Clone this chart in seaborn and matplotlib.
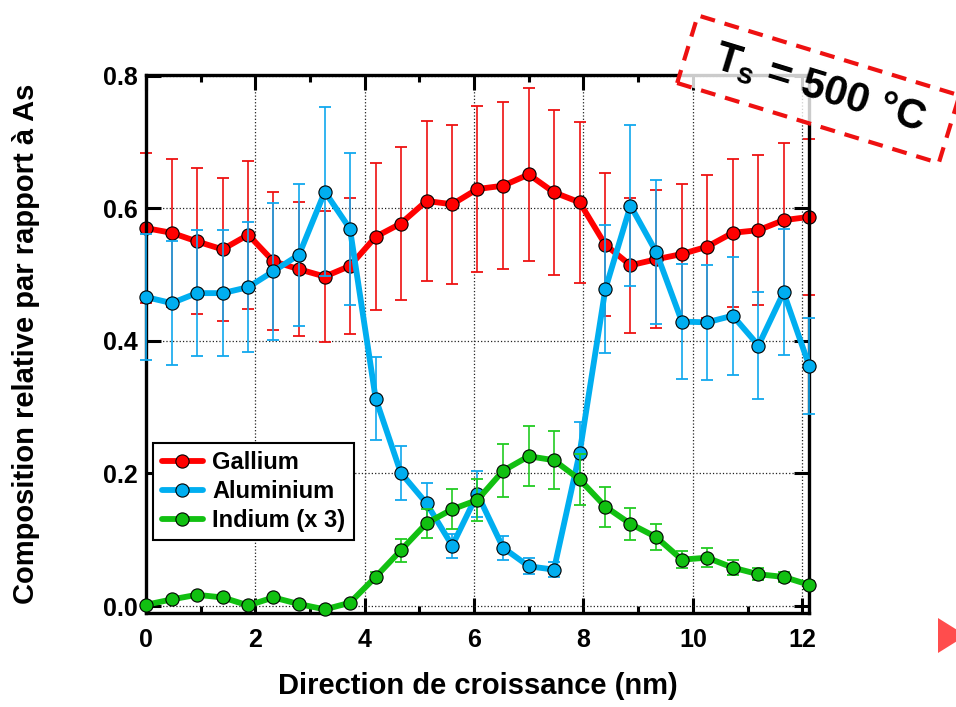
"""Relative composition profiles (Ga, Al, In x3) along the growth direction, Ts = 500 °C."""

import matplotlib
matplotlib.use("Agg")
import matplotlib.pyplot as plt
import matplotlib.patches as mpatches
import matplotlib.transforms as mtransforms
from matplotlib.ticker import FormatStrFormatter, MultipleLocator
import numpy as np
import seaborn as sns

# position along the growth direction (nm)
X_NM = [0.00, 0.47, 0.93, 1.40, 1.87, 2.33, 2.80, 3.27, 3.73, 4.20, 4.66, 5.13, 5.60,
        6.06, 6.53, 7.00, 7.46, 7.93, 8.40, 8.86, 9.33, 9.80, 10.26, 10.73, 11.20,
        11.66, 12.13]

GALLIUM = [0.570, 0.563, 0.550, 0.538, 0.560, 0.520, 0.508, 0.497, 0.513, 0.557, 0.577,
           0.611, 0.606, 0.629, 0.634, 0.651, 0.624, 0.609, 0.545, 0.514, 0.523, 0.531,
           0.542, 0.563, 0.567, 0.582, 0.587]
GALLIUM_ERR = [0.113, 0.112, 0.110, 0.108, 0.112, 0.104, 0.101, 0.099, 0.103, 0.111, 0.115,
               0.121, 0.120, 0.125, 0.126, 0.130, 0.124, 0.121, 0.108, 0.102, 0.104, 0.106,
               0.108, 0.112, 0.113, 0.116, 0.118]

ALUMINIUM = [0.466, 0.457, 0.472, 0.472, 0.481, 0.505, 0.530, 0.625, 0.569, 0.313, 0.201,
             0.155, 0.091, 0.169, 0.088, 0.060, 0.055, 0.231, 0.478, 0.604, 0.534, 0.429,
             0.428, 0.438, 0.393, 0.473, 0.362]
ALUMINIUM_ERR = [0.095, 0.093, 0.095, 0.095, 0.098, 0.103, 0.107, 0.127, 0.115, 0.063, 0.041,
                 0.031, 0.018, 0.034, 0.018, 0.012, 0.011, 0.047, 0.097, 0.122, 0.108, 0.087,
                 0.087, 0.089, 0.080, 0.095, 0.073]

INDIUM_X3 = [0.002, 0.010, 0.017, 0.013, 0.001, 0.013, 0.003, -0.005, 0.005, 0.044, 0.084,
             0.125, 0.146, 0.160, 0.204, 0.226, 0.220, 0.191, 0.150, 0.124, 0.104, 0.070,
             0.073, 0.058, 0.048, 0.044, 0.032]
INDIUM_X3_ERR = [0, 0, 0, 0, 0, 0, 0, 0, 0, 0.008, 0.017, 0.022, 0.030, 0.032, 0.040, 0.045,
                 0.044, 0.038, 0.030, 0.024, 0.020, 0.013, 0.014, 0.011, 0.009, 0.008, 0.006]

# label, values, errors, line colour, error bar colour
SERIES = [
    ("Gallium", GALLIUM, GALLIUM_ERR, "#ff0000", "#ee1111"),
    ("Aluminium", ALUMINIUM, ALUMINIUM_ERR, "#00aef0", "#11a8ee"),
    ("Indium (x 3)", INDIUM_X3, INDIUM_X3_ERR, "#11c011", "#22cc22"),
]

W, H = 956, 707


def main() -> None:
    sns.set_style("ticks")
    plt.rcParams.update({
        "font.family": ["Liberation Sans", "DejaVu Sans"],
        "font.weight": "bold",
        "mathtext.fontset": "custom",
        "mathtext.bf": "Liberation Sans:bold",
        "text.color": "black",
        "axes.labelcolor": "black",
        "xtick.color": "black",
        "ytick.color": "black",
        "xtick.direction": "in",
        "ytick.direction": "in",
        "xtick.top": True,
        "ytick.right": True,
    })

    fig = plt.figure(figsize=(W / 100, H / 100), dpi=100)
    ax = fig.add_axes([146 / W, (H - 612.7) / H, 663.3 / W, 537.7 / H])

    x = np.array(X_NM)
    for i, (label, vals, errs, color, ecolor) in enumerate(SERIES):
        y = np.array(vals)
        e = np.array(errs)
        m = e > 0
        ax.errorbar(x[m], y[m], yerr=e[m], fmt="none", ecolor=ecolor, elinewidth=1.2,
                    capsize=4.3, capthick=1.3, zorder=2 + i, clip_on=False)
        sns.lineplot(x=x, y=y, ax=ax, color=color, linewidth=4.2, marker="o",
                     markersize=9.5, markeredgecolor="black", markeredgewidth=0.8,
                     markerfacecolor=color, label=label, sort=False, zorder=2.5 + i,
                     clip_on=False)

    ax.set_xlim(0, 12.13)
    ax.set_ylim(-0.010, 0.801)
    ax.xaxis.set_major_locator(MultipleLocator(2))
    ax.xaxis.set_minor_locator(MultipleLocator(1))
    ax.yaxis.set_major_locator(MultipleLocator(0.2))
    ax.yaxis.set_major_formatter(FormatStrFormatter("%.1f"))
    ax.tick_params(which="major", length=10.5, width=2.2, labelsize=18, pad=6)
    ax.tick_params(which="minor", length=5, width=2.2)
    ax.tick_params(axis="x", which="major", pad=11)
    ax.tick_params(axis="x", which="minor", top=True, bottom=True)
    for s in ax.spines.values():
        s.set_linewidth(2.4)
        s.set_color("black")
    ax.grid(True, which="major", linestyle=":", linewidth=0.9, color="#222222")
    ax.set_axisbelow(True)

    ax.set_xlabel("Direction de croissance (nm)", fontsize=21, fontweight="bold")
    ax.set_ylabel("Composition relative par rapport à As", fontsize=21, fontweight="bold")
    ax.xaxis.set_label_coords((478 - 146) / 663.3, (612.7 - 672) / 537.7)
    ax.yaxis.set_label_coords((40 - 146) / 663.3, 0.5)

    leg = ax.legend(loc="lower left", bbox_to_anchor=(0.011, 0.135), borderaxespad=0,
                    frameon=True, fancybox=False, edgecolor="black", framealpha=1,
                    handlelength=1.75, handletextpad=0.4, labelspacing=0.25,
                    borderpad=0.35, prop={"size": 17, "weight": "bold"})
    leg.get_frame().set_linewidth(1.5)

    # rotated dashed label box "Ts = 500 °C"
    cx, cy = 818.3, H - 89.2
    bw, bh, ang = 273.6, 70.7, -17.0
    rot = mtransforms.Affine2D().rotate_deg_around(cx, cy, ang)
    box = mpatches.Rectangle((cx - bw / 2, cy - bh / 2), bw, bh, facecolor=(1, 1, 1, 0.8),
                             edgecolor="#ee1111", linewidth=3, linestyle=(0, (3.6, 2.4)),
                             transform=rot + mtransforms.IdentityTransform(), zorder=10)
    fig.add_artist(box)
    fig.text((cx + 1) / W, (cy + 1) / H, r"T$_\mathbf{s}$ = 500 °C", fontsize=30,
             fontweight="bold", color="black", rotation=ang, rotation_mode="anchor",
             ha="center", va="center", zorder=11)

    # small red arrow head at the right edge
    tri = mpatches.Polygon([(938 / W, (H - 618) / H), (938 / W, (H - 653) / H),
                            (966 / W, (H - 635.5) / H)], closed=True,
                           facecolor="#ff4d4d", edgecolor="none", transform=fig.transFigure)
    fig.add_artist(tri)

    fig.savefig("out.png", dpi=100)
    plt.close(fig)


if __name__ == "__main__":
    main()
